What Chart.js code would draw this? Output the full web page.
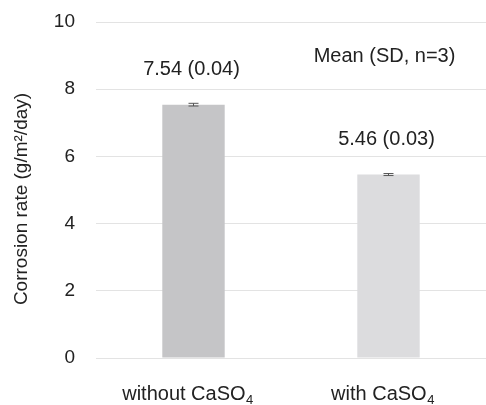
<!DOCTYPE html>
<html lang="en">
  <head>
    <meta charset="utf-8" />
    <title>Corrosion rate</title>
    <style>
      html, body { margin: 0; padding: 0; background: #fff; }
      #wrap { width: 486px; height: 405px; }
    </style>
  </head>
  <body>
    <div id="wrap"><canvas id="chartCorrosion"></canvas></div>

    <script src="https://cdn.jsdelivr.net/npm/chart.js@4.4.0/dist/chart.umd.min.js"></script>

    <script>
      // data
      const categories = ['without CaSO₄', 'with CaSO₄'];
      const means = [7.54, 5.46];
      const sds = [0.04, 0.03];
      const barColors = ['#c5c5c7', '#dcdcde'];
      const yTicks = [0, 2, 4, 6, 8, 10];
      const noteText = 'Mean (SD, n=3)';
      const yTitle = 'Corrosion rate (g/m²/day)';

      const font = "'Liberation Sans', Arial, Helvetica, sans-serif";
      const textColor = '#222';

      // error bars, value labels, note, axis title and x labels with subscript
      const extras = {
        id: 'extras',
        afterDatasetsDraw(chart) {
          const ctx = chart.ctx;
          const x = chart.scales.x;
          const y = chart.scales.y;
          const area = chart.chartArea;
          ctx.save();

          // error bars
          ctx.strokeStyle = '#555';
          ctx.lineWidth = 1;
          for (let i = 0; i < means.length; i++) {
            const cx = x.getPixelForValue(i);
            const top = y.getPixelForValue(means[i] + sds[i]);
            const bot = y.getPixelForValue(means[i] - sds[i]);
            ctx.beginPath();
            ctx.moveTo(cx, top); ctx.lineTo(cx, bot);
            ctx.moveTo(cx - 5, top); ctx.lineTo(cx + 5, top);
            ctx.moveTo(cx - 5, bot); ctx.lineTo(cx + 5, bot);
            ctx.stroke();
          }

          // value labels
          ctx.fillStyle = textColor;
          ctx.font = '20px ' + font;
          ctx.textAlign = 'center';
          ctx.textBaseline = 'middle';
          for (let i = 0; i < means.length; i++) {
            const cx = x.getPixelForValue(i);
            const top = y.getPixelForValue(means[i] + sds[i]);
            ctx.fillText(means[i].toFixed(2) + ' (' + sds[i].toFixed(2) + ')', cx - 2, top - 34);
          }

          // note
          ctx.fillText(noteText, x.getPixelForValue(1) - 4, y.getPixelForValue(8.97));

          // y axis title
          ctx.save();
          ctx.translate(22, (area.top + area.bottom) / 2 + 9);
          ctx.rotate(-Math.PI / 2);
          ctx.font = '19px ' + font;
          ctx.fillText(yTitle, 0, 0);
          ctx.restore();

          // x labels, drawing the ₄ as a subscript
          const ly = area.bottom + 42;
          for (let i = 0; i < categories.length; i++) {
            const main = categories[i].split('₄')[0];
            ctx.font = '20px ' + font;
            const w1 = ctx.measureText(main).width;
            ctx.font = '13px ' + font;
            const w2 = ctx.measureText('4').width;
            const sx = x.getPixelForValue(i) - 6 - (w1 + w2) / 2;
            ctx.textAlign = 'left';
            ctx.textBaseline = 'alphabetic';
            ctx.font = '20px ' + font;
            ctx.fillText(main, sx, ly);
            ctx.font = '13px ' + font;
            ctx.fillText('4', sx + w1 + 0.5, ly + 4);
          }
          ctx.restore();
        }
      };

      const config = {
        type: 'bar',
        data: {
          labels: categories,
          datasets: [
            {
              data: means,
              backgroundColor: barColors,
              borderWidth: 0,
              categoryPercentage: 1,
              barPercentage: 0.32
            }
          ]
        },
        options: {
          responsive: true,
          maintainAspectRatio: false,
          animation: false,
          layout: { padding: { top: 22, right: 0, left: 0, bottom: 0 } },
          plugins: {
            legend: { display: false },
            tooltip: { enabled: false }
          },
          scales: {
            x: {
              grid: { display: false },
              border: { display: false },
              ticks: { display: false },
              afterFit(scale) { scale.height = 47; }
            },
            y: {
              min: 0,
              max: 10,
              afterBuildTicks(scale) {
                scale.ticks = yTicks.map(v => ({ value: v }));
              },
              grid: { color: '#e3e3e3', lineWidth: 1, drawTicks: false },
              border: { display: false },
              ticks: {
                color: textColor,
                font: { family: font, size: 19 },
                padding: 21
              },
              title: { display: false },
              afterFit(scale) {
                scale.width = 96;
                scale.paddingTop = 0;
                scale.paddingBottom = 0;
              }
            }
          }
        },
        plugins: [extras]
      };

      const ctx = document.getElementById('chartCorrosion').getContext('2d');
      window.corrosionChart = new Chart(ctx, config);
    </script>
  </body>
</html>
